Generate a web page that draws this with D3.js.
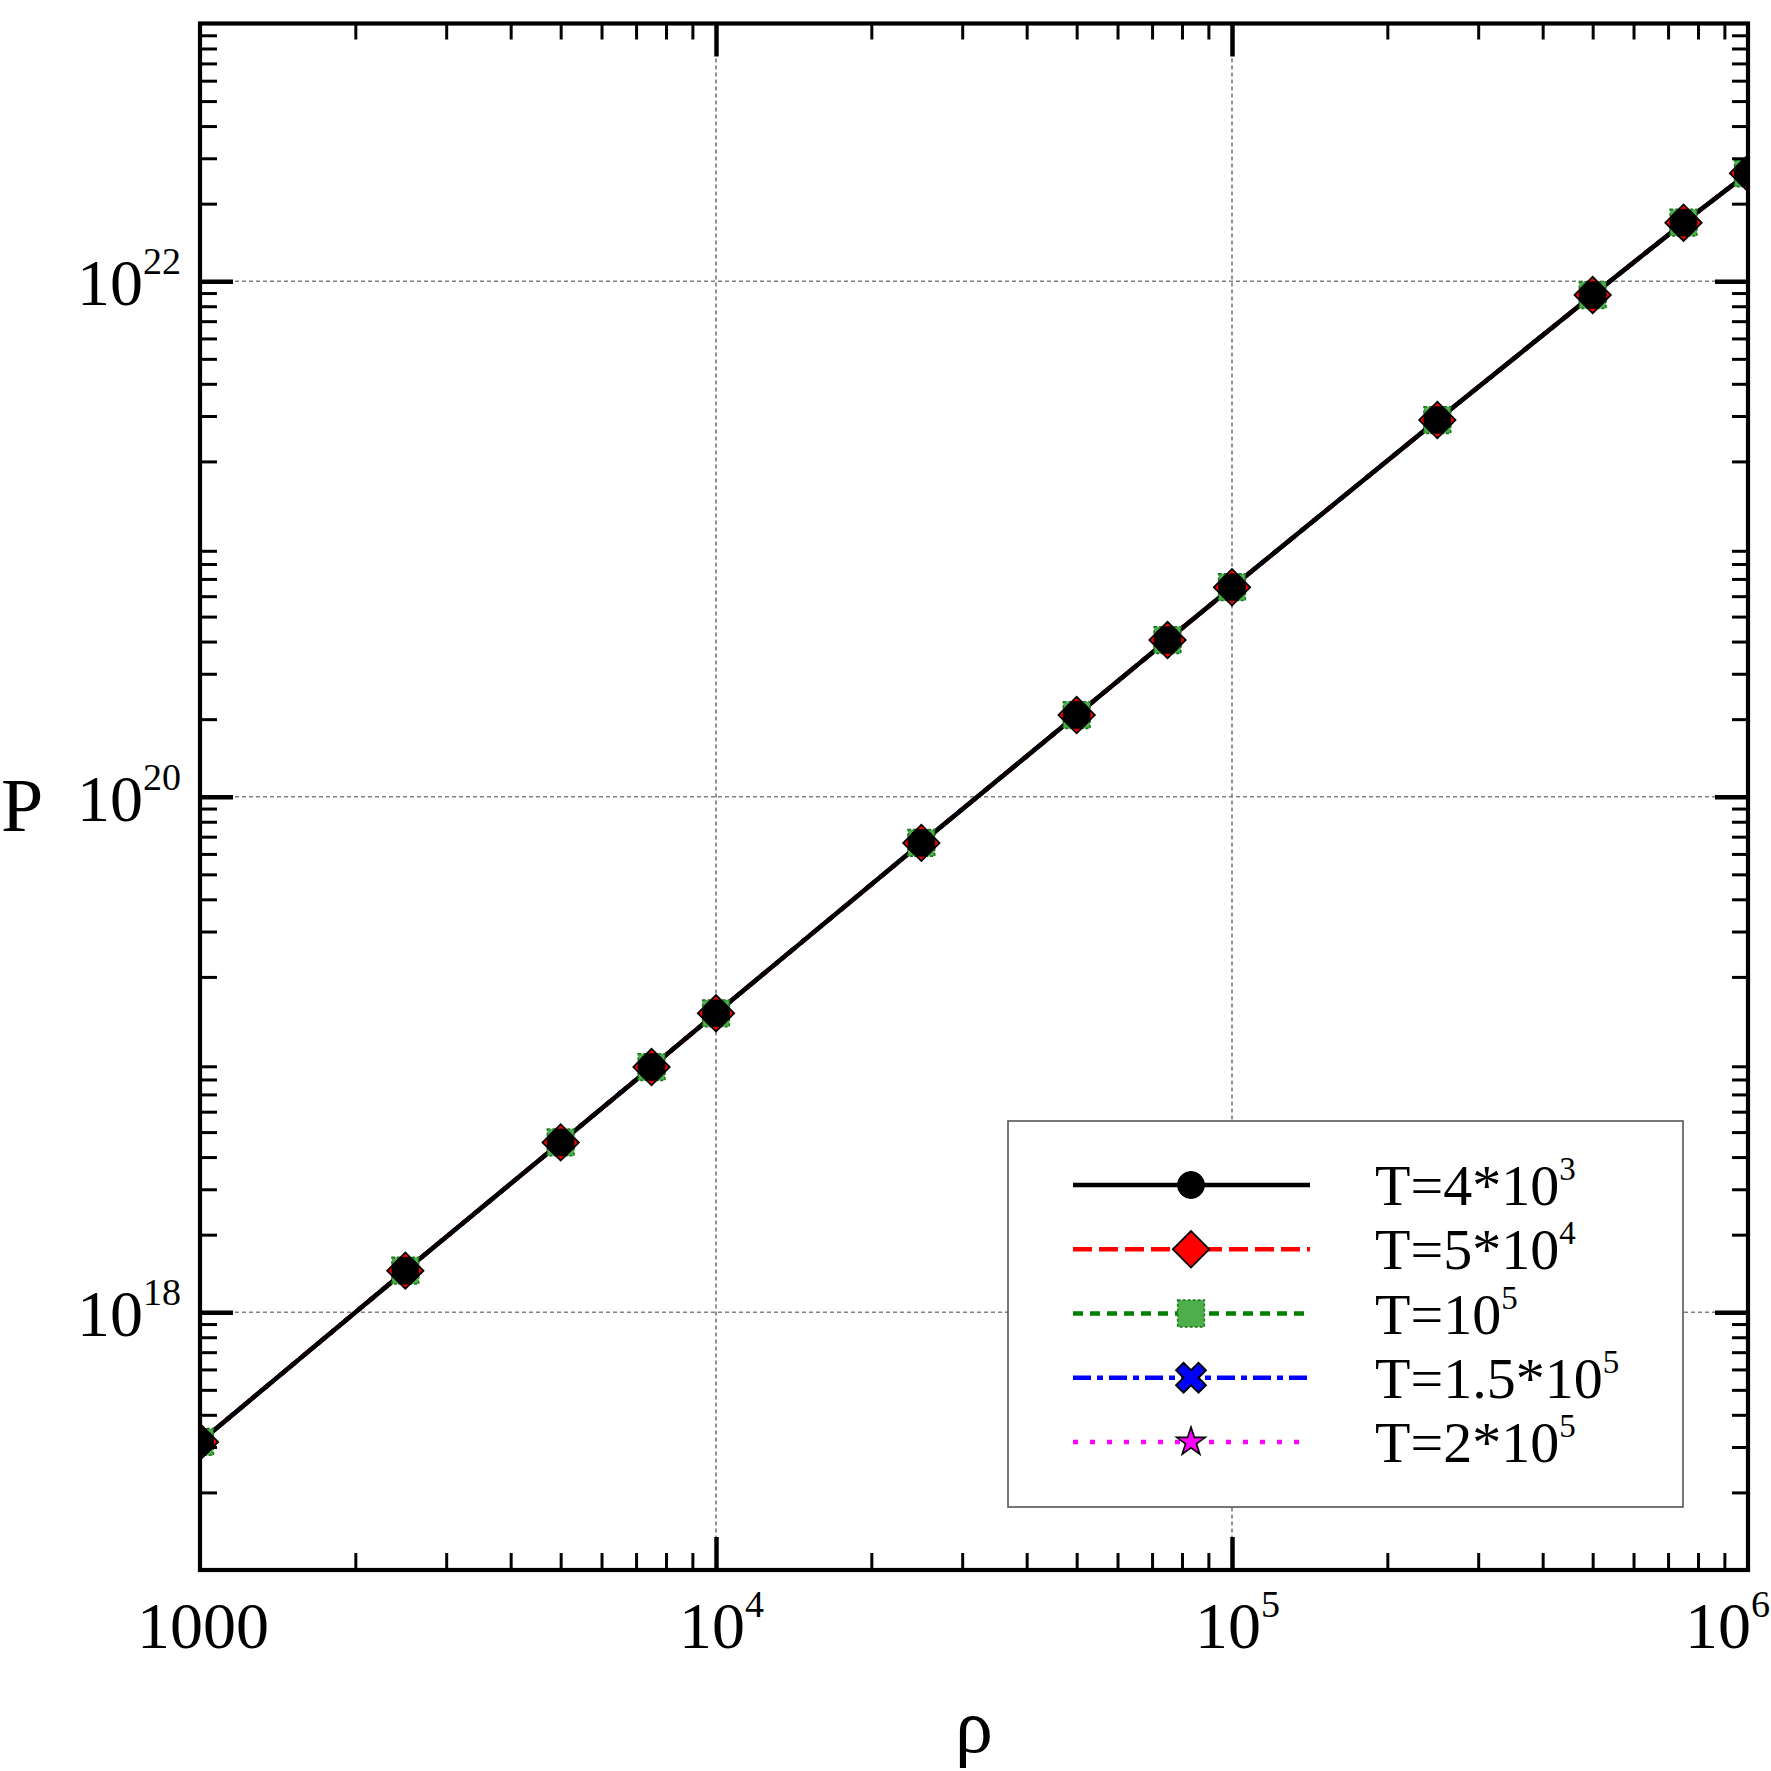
<!DOCTYPE html>
<html><head><meta charset="utf-8">
<script src="https://cdn.jsdelivr.net/npm/d3@7"></script>
<style>html,body{margin:0;padding:0;background:#fff;} svg{display:block;}</style>
</head><body><div id="chart"></div>
<script>
// ---------------- data ----------------
const rho = [1000, 2500, 5000, 7500, 10000, 25000, 50000, 75000, 100000, 250000, 500000, 750000, 1000000];
const P_T4e3   = [3.14e17, 1.45e18, 4.56e18, 8.94e18, 1.445e19, 6.62e19, 2.075e20, 4.055e20, 6.50e20, 2.895e21, 8.84e21, 1.687e22, 2.623e22];
const P_T5e4   = [3.14e17, 1.45e18, 4.56e18, 8.94e18, 1.445e19, 6.62e19, 2.075e20, 4.055e20, 6.50e20, 2.895e21, 8.84e21, 1.687e22, 2.623e22];
const P_T1e5   = [3.14e17, 1.45e18, 4.56e18, 8.94e18, 1.445e19, 6.62e19, 2.075e20, 4.055e20, 6.50e20, 2.895e21, 8.84e21, 1.687e22, 2.623e22];
const P_T1_5e5 = [3.14e17, 1.45e18, 4.56e18, 8.94e18, 1.445e19, 6.62e19, 2.075e20, 4.055e20, 6.50e20, 2.895e21, 8.84e21, 1.687e22, 2.623e22];
const P_T2e5   = [3.14e17, 1.45e18, 4.56e18, 8.94e18, 1.445e19, 6.62e19, 2.075e20, 4.055e20, 6.50e20, 2.895e21, 8.84e21, 1.687e22, 2.623e22];

const legendBase = ["T=4*10", "T=5*10", "T=10", "T=1.5*10", "T=2*10"];
const legendExp  = ["3", "4", "5", "5", "5"];

const xTickValues = [1e3, 1e4, 1e5, 1e6];
const xTickBase   = ["1000", "10", "10", "10"];
const xTickExp    = ["", "4", "5", "6"];
const yTickValues = [1e18, 1e20, 1e22];
const yTickBase   = ["10", "10", "10"];
const yTickExp    = ["18", "20", "22"];

// ---------------- layout ----------------
const W = 1771, H = 1771;
const X0 = 200, X1 = 1748, Y0 = 23.5, Y1 = 1570;
const FONT = "'Liberation Serif','Times New Roman',Times,serif";

const svg = d3.select("#chart").append("svg").attr("width", W).attr("height", H)
  .attr("viewBox", `0 0 ${W} ${H}`).style("background", "#fff");

const x = d3.scaleLog().domain([1e3, 1e6]).range([X0, X1]);
const y = d3.scaleLog().domain([1e17, 1e23]).range([Y1, Y0]);

const series = [
  {name: "T4e3",   vals: P_T4e3,   color: "#000000", dash: null,          width: 4.6, sym: "circle"},
  {name: "T5e4",   vals: P_T5e4,   color: "#ff0000", dash: "19,7",        width: 4.3, sym: "diamond"},
  {name: "T1e5",   vals: P_T1e5,   color: "#008000", dash: "10,7",        width: 4.3, sym: "square"},
  {name: "T1.5e5", vals: P_T1_5e5, color: "#0000ff", dash: "18,6,6,6",    width: 4.3, sym: "x"},
  {name: "T2e5",   vals: P_T2e5,   color: "#ff00ff", dash: "5,12",        width: 4.6, sym: "star"}
];

const defs = svg.append("defs");
defs.append("clipPath").attr("id", "plotclip").append("rect")
  .attr("x", X0).attr("y", Y0).attr("width", X1 - X0).attr("height", Y1 - Y0);

// ---------------- grid ----------------
const grid = svg.append("g");
grid.selectAll("line.gx").data([1e4, 1e5]).join("line")
  .attr("x1", d => x(d)).attr("x2", d => x(d)).attr("y1", Y0).attr("y2", Y1)
  .attr("stroke", "#808080").attr("stroke-width", 1.7).attr("stroke-dasharray", "4,3");
grid.selectAll("line.gy").data(yTickValues).join("line")
  .attr("y1", d => y(d)).attr("y2", d => y(d)).attr("x1", X0).attr("x2", X1)
  .attr("stroke", "#808080").attr("stroke-width", 1.7).attr("stroke-dasharray", "4,3");

// ---------------- symbols ----------------
function symbolPath(type, scale) {
  const s = scale || 1;
  switch (type) {
    case "circle":  return d3.symbol().type(d3.symbolCircle).size(Math.PI * 13.5 * 13.5 * s * s)();
    case "diamond": return d3.symbol().type(d3.symbolSquare).size(660 * s * s)();
    case "square":  return d3.symbol().type(d3.symbolSquare).size(711 * s * s)();
    case "x":       return d3.symbol().type(d3.symbolCross).size(562 * s * s)();
    case "star":    return d3.symbol().type(d3.symbolStar).size(253 * s * s)();
  }
}
function symbolStyle(sel, type) {
  if (type === "circle") sel.attr("fill", "#000").attr("stroke", "#000").attr("stroke-width", 1);
  if (type === "diamond") sel.attr("fill", "#ff0000").attr("stroke", "#000").attr("stroke-width", 1.8);
  if (type === "square") sel.attr("fill", "#4caf4a").attr("stroke", "#1f7a1f").attr("stroke-width", 1.6).attr("stroke-dasharray", "3,2");
  if (type === "x") sel.attr("fill", "#0000ff").attr("stroke", "#000").attr("stroke-width", 1.8);
  if (type === "star") sel.attr("fill", "#ff00ff").attr("stroke", "#000").attr("stroke-width", 1.6);
}
function symbolRotate(type) { return (type === "diamond" || type === "x") ? 45 : 0; }

// ---------------- series ----------------
const plot = svg.append("g").attr("clip-path", "url(#plotclip)");
const line = d3.line().x(d => x(d[0])).y(d => y(d[1]));
const drawOrder = series.slice().reverse(); // magenta first, black last

drawOrder.forEach(s => {
  const pts = rho.map((r, i) => [r, s.vals[i]]);
  plot.append("path").datum(pts).attr("d", line)
    .attr("fill", "none").attr("stroke", s.color).attr("stroke-width", s.width)
    .attr("stroke-dasharray", s.dash);
});
drawOrder.forEach(s => {
  const pts = rho.map((r, i) => [r, s.vals[i]]);
  const sc = (s.sym === "x") ? 0.85 : (s.sym === "star" ? 0.8 : 1);
  plot.append("g").selectAll("path").data(pts).join("path")
    .attr("d", symbolPath(s.sym, sc))
    .attr("transform", d => `translate(${x(d[0])},${y(d[1])}) rotate(${symbolRotate(s.sym)})`)
    .call(symbolStyle, s.sym);
});

// ---------------- legend ----------------
const LX0 = 1008, LY0 = 1121, LX1 = 1683, LY1 = 1507;
const leg = svg.append("g");
leg.append("rect").attr("x", LX0).attr("y", LY0).attr("width", LX1 - LX0).attr("height", LY1 - LY0)
  .attr("fill", "#fff").attr("stroke", "#555").attr("stroke-width", 1.6);
const rowY = d3.scaleLinear().domain([0, 4]).range([1185, 1442]);
series.forEach((s, i) => {
  const yy = rowY(i);
  leg.append("line").attr("x1", 1073).attr("x2", 1310).attr("y1", yy).attr("y2", yy)
    .attr("stroke", s.color).attr("stroke-width", s.width).attr("stroke-dasharray", s.dash);
  leg.append("path").attr("d", symbolPath(s.sym, 1))
    .attr("transform", `translate(1191,${yy}) rotate(${symbolRotate(s.sym)})`)
    .call(symbolStyle, s.sym);
  const t = leg.append("text").attr("x", 1375).attr("y", yy + 20)
    .attr("font-family", FONT).attr("font-size", 58).attr("fill", "#000");
  t.append("tspan").text(legendBase[i]);
  t.append("tspan").attr("font-size", 33).attr("dy", -25).text(legendExp[i]);
});

// ---------------- axes (ticks) ----------------
function minorTicks(lo, hi) {
  const out = [];
  for (let n = lo; n <= hi; n++) for (let k = 2; k <= 9; k++) out.push(k * Math.pow(10, n));
  return out;
}
const xMinor = minorTicks(3, 5);
const yMinor = minorTicks(17, 22);
const xMajorInner = [1e4, 1e5];

function styleAxis(g, w) {
  g.select(".domain").remove();
  g.selectAll(".tick line").attr("stroke", "#000").attr("stroke-width", w);
  g.selectAll(".tick text").remove();
}
const axes = svg.append("g");
// bottom
axes.append("g").attr("transform", `translate(0,${Y1})`)
  .call(d3.axisBottom(x).tickValues(xMinor).tickSize(-17).tickFormat("")).call(styleAxis, 3);
axes.append("g").attr("transform", `translate(0,${Y1})`)
  .call(d3.axisBottom(x).tickValues(xMajorInner).tickSize(-33).tickFormat("")).call(styleAxis, 4.5);
// top
axes.append("g").attr("transform", `translate(0,${Y0})`)
  .call(d3.axisTop(x).tickValues(xMinor).tickSize(-16).tickFormat("")).call(styleAxis, 3);
axes.append("g").attr("transform", `translate(0,${Y0})`)
  .call(d3.axisTop(x).tickValues(xMajorInner).tickSize(-33).tickFormat("")).call(styleAxis, 4.5);
// left
axes.append("g").attr("transform", `translate(${X0},0)`)
  .call(d3.axisLeft(y).tickValues(yMinor).tickSize(-17).tickFormat("")).call(styleAxis, 3);
axes.append("g").attr("transform", `translate(${X0},0)`)
  .call(d3.axisLeft(y).tickValues(yTickValues).tickSize(-33).tickFormat("")).call(styleAxis, 4.5);
// right
axes.append("g").attr("transform", `translate(${X1},0)`)
  .call(d3.axisRight(y).tickValues(yMinor).tickSize(-16).tickFormat("")).call(styleAxis, 3);
axes.append("g").attr("transform", `translate(${X1},0)`)
  .call(d3.axisRight(y).tickValues(yTickValues).tickSize(-33).tickFormat("")).call(styleAxis, 4.5);

// frame
svg.append("rect").attr("x", X0).attr("y", Y0).attr("width", X1 - X0).attr("height", Y1 - Y0)
  .attr("fill", "none").attr("stroke", "#000").attr("stroke-width", 4.2);

// ---------------- tick labels ----------------
const TL = 66, TS = 38, RISE = 31;
xTickValues.forEach((v, i) => {
  const t = svg.append("text").attr("y", 1648).attr("font-family", FONT).attr("font-size", TL).attr("fill", "#000");
  if (!xTickExp[i]) {
    t.attr("x", x(v) + 3).attr("text-anchor", "middle").text(xTickBase[i]);
  } else {
    const xs = Math.min(x(v) - 37, W - 86);
    t.attr("x", xs).attr("text-anchor", "start");
    t.append("tspan").text(xTickBase[i]);
    t.append("tspan").attr("font-size", TS).attr("dy", -RISE).text(xTickExp[i]);
  }
});
yTickValues.forEach((v, i) => {
  const t = svg.append("text").attr("x", 181).attr("y", y(v) + 24).attr("text-anchor", "end")
    .attr("font-family", FONT).attr("font-size", TL).attr("fill", "#000");
  t.append("tspan").text(yTickBase[i]);
  t.append("tspan").attr("font-size", TS).attr("dy", -RISE).text(yTickExp[i]);
});

// ---------------- axis titles ----------------
svg.append("text").attr("x", 1).attr("y", 831).attr("font-family", FONT).attr("font-size", 76)
  .attr("fill", "#000").text("P");
svg.append("text").attr("x", (X0 + X1) / 2).attr("y", 1752).attr("text-anchor", "middle")
  .attr("font-family", FONT).attr("font-size", 76).attr("fill", "#000").text("ρ");
</script>
</body></html>
